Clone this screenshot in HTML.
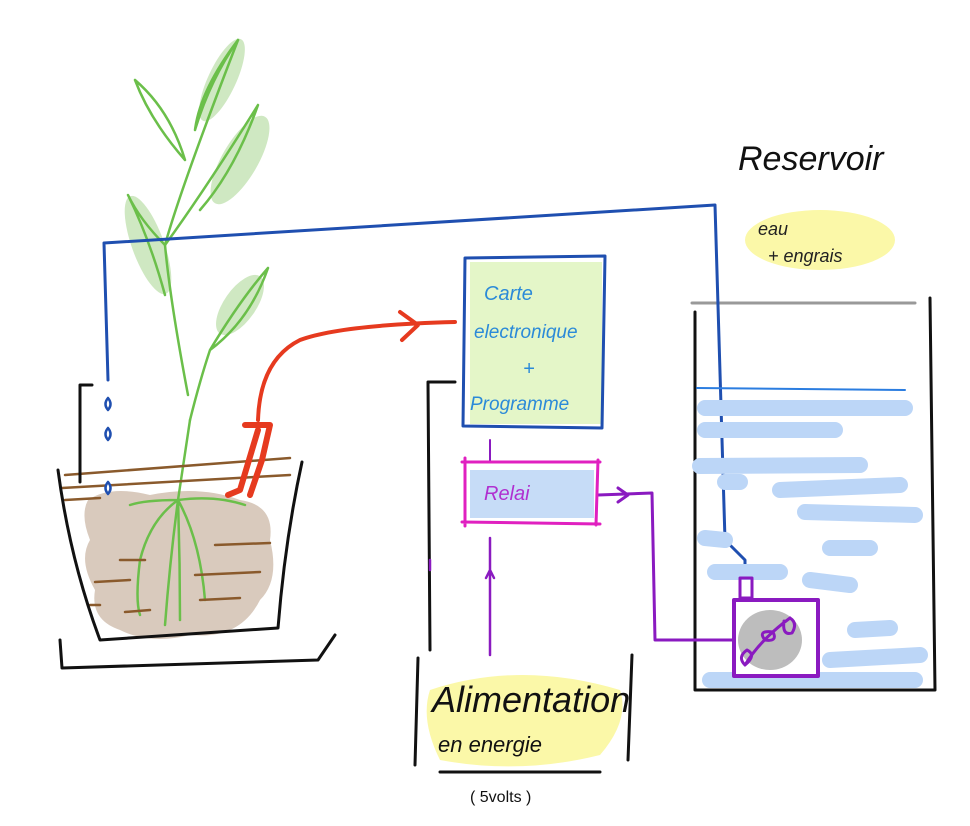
<!DOCTYPE html>
<html><head><meta charset="utf-8"><style>
html,body{margin:0;padding:0;background:#fff;}
svg{display:block;}
text{font-family:"Liberation Sans",sans-serif;}
</style></head><body>
<svg width="970" height="826" viewBox="0 0 970 826" xmlns="http://www.w3.org/2000/svg">
<g fill="none" stroke-linecap="round" stroke-linejoin="round">
<path d="M88,500 Q110,485 150,495 Q200,485 240,500 Q275,505 270,540 Q280,580 260,600 Q240,640 190,635 Q150,645 120,630 Q90,620 95,590 Q78,560 90,540 Q80,515 88,500 Z" fill="#d9cabd" stroke="none"/>
<g fill="#cfe8c2" stroke="none">
<ellipse cx="222" cy="80" rx="14" ry="45" transform="rotate(25 222 80)"/>
<ellipse cx="240" cy="160" rx="18" ry="50" transform="rotate(30 240 160)"/>
<ellipse cx="148" cy="245" rx="16" ry="52" transform="rotate(-20 148 245)"/>
<ellipse cx="240" cy="305" rx="16" ry="35" transform="rotate(35 240 305)"/>
</g>
<g stroke="#6bbf4a" stroke-width="2.5">
<path d="M188,395 Q170,300 165,245 Q180,190 238,40"/>
<path d="M238,40 Q210,80 195,130 Q200,90 238,40"/>
<path d="M135,80 Q170,110 185,160 Q150,120 135,80"/>
<path d="M165,245 Q205,190 258,105 Q235,170 200,210"/>
<path d="M165,245 Q140,220 128,195 Q150,240 165,295"/>
<path d="M190,420 Q200,380 210,350 Q240,300 268,268 Q250,320 210,350"/>
<path d="M190,420 L178,500 Q170,560 165,625"/>
<path d="M178,500 Q150,520 140,560 Q135,600 140,615"/>
<path d="M178,500 Q200,540 205,600 M178,500 Q215,495 245,505 M178,500 Q145,500 130,505 M178,500 Q180,560 180,620"/>
</g>
<g stroke="#8a5a2c" stroke-width="2.5">
<path d="M65,475 L290,458 M62,488 L290,475 M65,500 L100,498 M215,545 L270,543 M195,575 L260,572 M95,582 L130,580 M125,612 L150,610 M90,605 L100,605 M200,600 L240,598 M120,560 L145,560"/>
</g>
<g stroke="#111" stroke-width="3">
<path d="M58,470 Q70,560 100,640 L278,628 Q285,540 302,462"/>
<path d="M60,640 L62,668 L318,660 L335,635"/>
<path d="M92,385 L80,385 L80,482"/>
<path d="M428,382 L430,650 M428,382 L455,382"/>
<path d="M418,658 L415,765 M632,655 L628,760 M440,772 L600,772"/>
<path d="M695,312 L695,690 L935,690 L930,298"/>
</g>
<path d="M692,303 L915,303" stroke="#999" stroke-width="3"/>
<g stroke="#1f4fb0" stroke-width="3">
<path d="M108,380 L104,243 L715,205 L725,540 L745,560 L745,578"/>
</g>
<g fill="#fff" stroke="#1f4fb0" stroke-width="2.5">
<path d="M108,398 q5,6 0,12 q-5,-6 0,-12 Z"/>
<path d="M108,428 q5,6 0,12 q-5,-6 0,-12 Z"/>
<path d="M108,482 q5,6 0,12 q-5,-6 0,-12 Z"/>
</g>
<path d="M697,388 L905,390" stroke="#2b7de0" stroke-width="2"/>
<g stroke="#bcd6f7" stroke-width="16">
<path d="M705,408 L905,408 M705,430 L835,430 M700,466 L860,465 M725,482 L740,482 M780,490 L900,485 M805,512 L915,515 M705,538 L725,540 M830,548 L870,548 M715,572 L780,572 M810,580 L850,585 M855,630 L890,628 M830,660 L920,655 M710,680 L915,680"/>
</g>
<rect x="734" y="600" width="84" height="76" fill="#fff" stroke="none"/>
<ellipse cx="770" cy="640" rx="32" ry="30" fill="#bdbdbd" stroke="none"/>
<rect x="734" y="600" width="84" height="76" fill="none" stroke="#8a1ac0" stroke-width="4"/>
<rect x="740" y="578" width="12" height="20" fill="none" stroke="#8a1ac0" stroke-width="3"/>
<path d="M745,665 Q760,640 790,618 M790,618 q8,5 2,15 q-10,3 -8,-12 M745,665 q-8,-8 2,-15 q10,5 -2,15 M765,640 q-8,-10 8,-8 q5,10 -8,8" stroke="#8a1ac0" stroke-width="3"/>
<path d="M598,495 L652,493 L655,640 L734,640" stroke="#8a1ac0" stroke-width="3"/>
<path d="M618,488 L628,495 L618,502" stroke="#8a1ac0" stroke-width="3"/>
<path d="M490,655 L490,538 M486,578 L490,570 L494,578 M430,570 L430,560" stroke="#8a1ac0" stroke-width="2.5"/>
<path d="M490,440 L490,462" stroke="#8a1ac0" stroke-width="2"/>
<rect x="470" y="262" width="132" height="162" fill="#e4f6c8" stroke="none"/>
<path d="M465,258 L605,256 L602,428 L463,426 Z" stroke="#1f4fb0" stroke-width="3"/>
<rect x="470" y="470" width="124" height="48" fill="#c6dcf7" stroke="none"/>
<path d="M462,462 L600,462 M598,460 L596,525 M600,524 L462,522 M465,458 L465,526" stroke="#e020c0" stroke-width="3"/>
<path d="M258,420 Q260,360 300,340 Q340,325 455,322 M400,312 L418,325 L402,340" stroke="#e63a1f" stroke-width="4"/>
<path d="M245,425 L270,425 L262,460 L250,495 M258,430 L240,490 L228,495" stroke="#e63a1f" stroke-width="6"/>
<ellipse cx="820" cy="240" rx="75" ry="30" fill="#fbf8a8" stroke="none"/>
<path d="M430,690 Q520,660 620,690 Q630,720 600,755 Q520,775 440,760 Q420,720 430,690 Z" fill="#fbf8a8" stroke="none"/>
</g>
<g font-family="Liberation Sans, sans-serif">
<text x="738" y="170" font-size="34" fill="#111" font-style="italic">Reservoir</text>
<text x="758" y="235" font-size="18" fill="#222" font-style="italic">eau</text>
<text x="768" y="262" font-size="18" fill="#222" font-style="italic">+ engrais</text>
<text x="484" y="300" font-size="20" fill="#2b8ad8" font-style="italic">Carte</text>
<text x="474" y="338" font-size="19" fill="#2b8ad8" font-style="italic">electronique</text>
<text x="523" y="375" font-size="20" fill="#2b8ad8" font-style="italic">+</text>
<text x="470" y="410" font-size="19" fill="#2b8ad8" font-style="italic">Programme</text>
<text x="484" y="500" font-size="20" fill="#b030d0" font-style="italic">Relai</text>
<text x="432" y="712" font-size="36" fill="#111" font-style="italic">Alimentation</text>
<text x="438" y="752" font-size="22" fill="#111" font-style="italic">en energie</text>
<text x="470" y="802" font-size="16" fill="#111">( 5volts )</text>
</g>
</svg>
</body></html>
